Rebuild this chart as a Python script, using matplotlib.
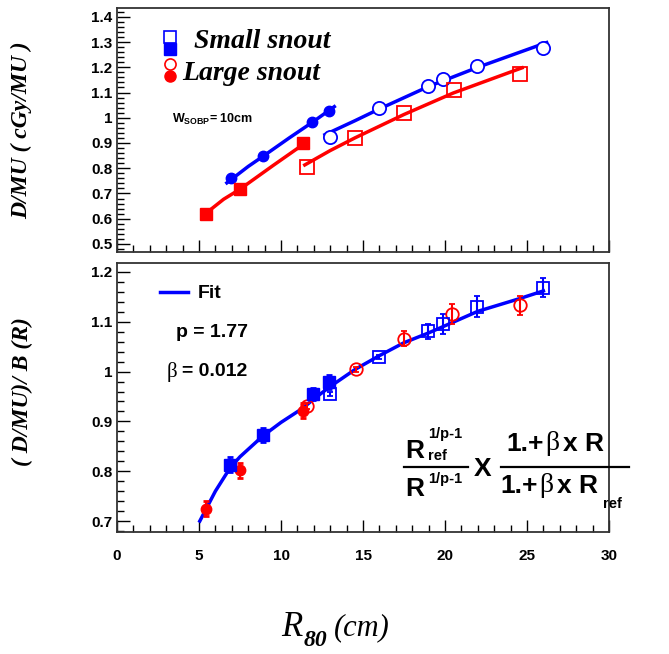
import numpy as np
import matplotlib
matplotlib.use("Agg")
import matplotlib.pyplot as plt
from matplotlib.ticker import MultipleLocator, FuncFormatter
from matplotlib.font_manager import FontProperties

# ---- top panel data: D/MU vs R80 ----
blue_fill_r = [6.93, 8.92, 11.91, 12.9]
blue_fill_v = [0.760, 0.848, 0.985, 1.026]
blue_open_r = [13.0, 15.96, 18.94, 19.9, 21.93, 25.99]
blue_open_v = [0.924, 1.040, 1.126, 1.152, 1.204, 1.276]
red_fill_r = [5.43, 7.5, 11.32]
red_fill_v = [0.618, 0.719, 0.900]
red_open_r = [11.56, 14.53, 17.52, 20.55, 24.57]
red_open_v = [0.804, 0.918, 1.018, 1.109, 1.172]

# fit curves
fit_blue_lo_r = [6.7, 8.0, 8.92, 10.5, 11.91, 13.25]
fit_blue_lo_v = [0.742, 0.807, 0.848, 0.920, 0.982, 1.044]
fit_blue_hi_r = [12.68, 14.5, 16.0, 19.0, 22.0, 26.2]
fit_blue_hi_v = [0.933, 0.988, 1.035, 1.124, 1.200, 1.298]
fit_red_lo_r = [5.22, 6.5, 7.5, 9.5, 11.28]
fit_red_lo_v = [0.611, 0.677, 0.717, 0.810, 0.891]
fit_red_hi_r = [11.45, 13.0, 14.5, 17.5, 20.5, 24.7]
fit_red_hi_v = [0.813, 0.870, 0.920, 1.013, 1.098, 1.198]

# ---- bottom panel data: (D/MU)/B(R) ----
b_blue_fill_r = [6.9, 8.9, 11.95, 12.9]
b_blue_fill_v = [0.813, 0.872, 0.955, 0.980]
b_blue_fill_e = [0.015, 0.014, 0.013, 0.014]
b_blue_open_r = [13.0, 15.95, 18.95, 19.9, 21.95, 26.0]
b_blue_open_v = [0.956, 1.030, 1.081, 1.095, 1.130, 1.168]
b_blue_open_e = [0.004, 0.004, 0.015, 0.020, 0.021, 0.019]
b_red_fill_r = [5.45, 7.5, 11.35]
b_red_fill_v = [0.725, 0.802, 0.921]
b_red_fill_e = [0.015, 0.015, 0.015]
b_red_open_r = [11.6, 14.55, 17.5, 20.45, 24.55]
b_red_open_v = [0.930, 1.005, 1.066, 1.116, 1.133]
b_red_open_e = [0.006, 0.005, 0.015, 0.020, 0.019]

fit_r = [5.05, 6.0, 6.9, 7.5, 8.9, 10.0, 11.35, 12.0, 13.0, 14.55, 16.0, 17.5, 18.95, 20.0, 22.0, 24.5, 26.0]
fit_v = [0.700, 0.760, 0.807, 0.829, 0.871, 0.898, 0.927, 0.945, 0.970, 1.005, 1.032, 1.058, 1.077, 1.092, 1.121, 1.146, 1.162]

BLUE = "#0000ff"
RED = "#ff0000"
W, H = 669, 654

fig = plt.figure(figsize=(W / 100, H / 100), dpi=100)
ax1 = fig.add_axes([117 / W, 1 - 252 / H, 492 / W, 244 / H])
ax2 = fig.add_axes([117 / W, 1 - 532 / H, 492 / W, 269 / H])

fmt = FuncFormatter(lambda v, p: "%g" % round(v, 2))
for ax in (ax1, ax2):
    ax.set_xlim(0, 30)
    ax.xaxis.set_major_locator(MultipleLocator(5))
    ax.xaxis.set_minor_locator(MultipleLocator(1))
    ax.yaxis.set_major_locator(MultipleLocator(0.1))
    ax.yaxis.set_minor_locator(MultipleLocator(0.02))
    ax.yaxis.set_major_formatter(fmt)
    ax.tick_params(which="both", direction="in", top=False, right=False)
    ax.tick_params(which="major", length=9, width=1)
    ax.tick_params(which="minor", length=5, width=1)
    for s in ax.spines.values():
        s.set_linewidth(1.3)
        s.set_color("#333333")

tick_fp = FontProperties(family="Liberation Sans", weight="bold", size=11)

# ---- top panel ----
ax1.set_ylim(0.468, 1.435)
ax1.plot(fit_blue_lo_r, fit_blue_lo_v, color=BLUE, lw=2.5)
ax1.plot(fit_blue_hi_r, fit_blue_hi_v, color=BLUE, lw=2.5)
ax1.plot(fit_red_lo_r, fit_red_lo_v, color=RED, lw=2.5)
ax1.plot(fit_red_hi_r, fit_red_hi_v, color=RED, lw=2.5)
ax1.plot(blue_fill_r, blue_fill_v, "o", color=BLUE, ms=7.5)
ax1.plot(blue_open_r, blue_open_v, "o", color=BLUE, mfc="white", ms=9.5, mew=1.3)
ax1.plot(red_fill_r, red_fill_v, "s", color=RED, ms=8)
ax1.plot(red_open_r, red_open_v, "s", color=RED, mfc="none", ms=9.5, mew=1.3)
ax1.set_xticklabels([])
for lab in ax1.get_yticklabels():
    lab.set_fontproperties(tick_fp)


def fx(x):
    return x / W


def fy(y):
    return 1 - y / H


# legend (drawn as in the picture)
fig.lines.append(plt.Line2D([fx(170)], [fy(37)], marker="s", color=BLUE, mfc="white", ms=8, mew=1.2, transform=fig.transFigure))
fig.lines.append(plt.Line2D([fx(170)], [fy(49)], marker="s", color=BLUE, ms=8, transform=fig.transFigure))
fig.lines.append(plt.Line2D([fx(170)], [fy(64)], marker="o", color=RED, mfc="white", ms=8, mew=1.2, transform=fig.transFigure))
fig.lines.append(plt.Line2D([fx(170)], [fy(76)], marker="o", color=RED, ms=8, transform=fig.transFigure))
fig.text(fx(194), fy(42), "Small snout", family="Liberation Serif", style="italic", weight="bold", size=20, va="center")
fig.text(fx(182), fy(73), "Large snout", family="Liberation Serif", style="italic", weight="bold", size=20, va="center")
fig.text(fx(172), fy(119), r"W$_{\mathregular{SOBP}}$= 10cm", family="Liberation Sans", weight="bold", size=9, va="center")

# ---- bottom panel ----
ax2.set_ylim(0.678, 1.218)
ax2.plot(fit_r, fit_v, color=BLUE, lw=2.5, zorder=3)
eb = dict(ls="none", elinewidth=1.5, capsize=2.5, capthick=2, zorder=4)
ax2.errorbar(b_red_fill_r, b_red_fill_v, yerr=b_red_fill_e, fmt="o", color=RED, ms=7.5, **eb)
ax2.errorbar(b_red_open_r, b_red_open_v, yerr=b_red_open_e, fmt="o", color=RED, mfc="none", ms=9, mew=1.3, **eb)
ax2.errorbar(b_blue_fill_r, b_blue_fill_v, yerr=b_blue_fill_e, fmt="s", color=BLUE, ms=8, **eb)
ax2.errorbar(b_blue_open_r, b_blue_open_v, yerr=b_blue_open_e, fmt="s", color=BLUE, mfc="none", ms=8.5, mew=1.3, **eb)
ax2.xaxis.set_major_formatter(FuncFormatter(lambda v, p: "%d" % v))
for lab in ax2.get_yticklabels() + ax2.get_xticklabels():
    lab.set_fontproperties(tick_fp)
ax2.tick_params(axis="x", pad=12)

fig.lines.append(plt.Line2D([fx(160), fx(188)], [fy(292), fy(292)], color=BLUE, lw=2.5, transform=fig.transFigure))
fig.text(fx(198), fy(293), "Fit", family="Liberation Sans", weight="bold", size=14, va="center")
fig.text(fx(176), fy(333), "p = 1.77", family="Liberation Sans", weight="bold", size=14, va="center")
fig.text(fx(167), fy(372), "\u03b2", family="Liberation Serif", size=15, va="center")
fig.text(fx(182), fy(372), "= 0.012", family="Liberation Sans", weight="bold", size=14, va="center")

# formula, built from pieces
ff = dict(family="Liberation Sans", weight="bold")
fs = 19
fig.text(fx(405), fy(451), "R", size=fs, va="center", **ff)
fig.text(fx(428), fy(434), "1/p-1", size=10.5, va="center", **ff)
fig.text(fx(428), fy(456), "ref", size=10.5, va="center", **ff)
fig.lines.append(plt.Line2D([fx(404), fx(468)], [fy(467), fy(467)], color="black", lw=1.6, transform=fig.transFigure))
fig.text(fx(405), fy(489), "R", size=fs, va="center", **ff)
fig.text(fx(428), fy(479), "1/p-1", size=10.5, va="center", **ff)
fig.text(fx(474), fy(469), "X", size=fs, va="center", **ff)
fig.text(fx(506), fy(444), "1.+", size=fs, va="center", **ff)
fig.text(fx(545), fy(444), "\u03b2", family="Liberation Serif", size=fs + 1, va="center")
fig.text(fx(563), fy(444), "x R", size=fs, va="center", **ff)
fig.lines.append(plt.Line2D([fx(501), fx(629)], [fy(467), fy(467)], color="black", lw=1.6, transform=fig.transFigure))
fig.text(fx(500), fy(486), "1.+", size=fs, va="center", **ff)
fig.text(fx(539), fy(486), "\u03b2", family="Liberation Serif", size=fs + 1, va="center")
fig.text(fx(557), fy(486), "x R", size=fs, va="center", **ff)
fig.text(fx(603), fy(504), "ref", size=10.5, va="center", **ff)

# axis titles
fig.text(fx(22), fy(130), "D/MU ( cGy/MU )", family="Liberation Serif", style="italic", weight="bold",
         size=17, rotation=90, ha="center", va="center")
fig.text(fx(22), fy(392), "( D/MU)/ B (R)", family="Liberation Serif", style="italic", weight="bold",
         size=17, rotation=90, ha="center", va="center")
fig.text(fx(281), fy(628), "R", family="Liberation Serif", style="italic", size=25, va="center")
fig.text(fx(304), fy(640), "80", family="Liberation Serif", style="italic", weight="bold", size=17, va="center")
fig.text(fx(334), fy(628), "(cm)", family="Liberation Serif", style="italic", size=22, va="center")

fig.savefig("out.png", dpi=100)
